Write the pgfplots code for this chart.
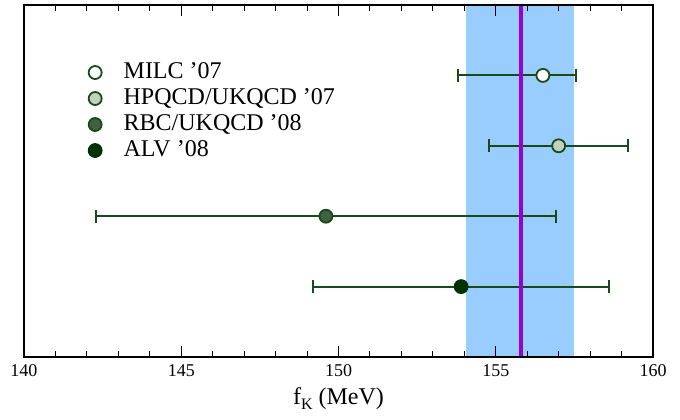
\documentclass[border=0pt]{standalone}
\usepackage{fontspec}
\setmainfont{Liberation Serif}
\usepackage{pgfplots}
\pgfplotsset{compat=1.18}
\definecolor{dg}{RGB}{25,75,25}
\definecolor{band}{RGB}{153,204,255}
\definecolor{purp}{RGB}{150,0,210}
\definecolor{hpfill}{RGB}{195,208,190}
\definecolor{rbcfill}{RGB}{65,95,65}
\definecolor{alvfill}{RGB}{0,50,0}
\begin{document}
\begin{tikzpicture}
\begin{axis}[
  at={(0,0)}, anchor=south west,
  scale only axis, width=629pt, height=352pt,
  xmin=140, xmax=160, ymin=0, ymax=5,
  ytick=\empty,
  xtick={140,145,150,155,160}, minor x tick num=4,
  tick align=inside, xtick pos=both,
  major tick length=11pt, minor tick length=6pt,
  axis line style={line width=1.5pt},
  every tick/.style={black, line width=1pt},
  xticklabel style={font=\fontsize{18}{20}\selectfont, yshift=-4pt},
  /pgf/number format/assume math mode=true,
  xlabel={f\raisebox{-5pt}{\fontsize{16}{16}\selectfont K} (MeV)},
  xlabel style={font=\fontsize{24}{26}\selectfont, yshift=-4pt},
  axis on top,
  legend cell align=left,
  legend style={at={(0.1025,0.84)}, anchor=north west, draw=none, fill=none,
    font=\fontsize{24}{26}\selectfont, row sep=4pt, column sep=22pt, inner sep=0pt,
    nodes={inner sep=0pt, text height=17pt, text depth=5pt}},
  error bars/error bar style={line width=2pt, dg},
  error bars/error mark options={rotate=90, mark size=6.5pt, line width=2pt, dg},
]
\addplot[fill=band, draw=none, forget plot] coordinates {(154.05,0) (157.5,0) (157.5,5) (154.05,5)} -- cycle;

\addplot[only marks, mark=*, mark size=6.5pt, mark options={draw=dg, fill=white, line width=1.8pt},
  error bars/.cd, x dir=both, x explicit]
  coordinates {(156.5,4) += (1.05,0) -= (2.7,0)};
\addlegendentry{MILC '07}
\addplot[only marks, mark=*, mark size=6.5pt, mark options={draw=dg, fill=hpfill, line width=1.8pt},
  error bars/.cd, x dir=both, x explicit]
  coordinates {(157.0,3) += (2.2,0) -= (2.2,0)};
\addlegendentry{HPQCD/UKQCD '07}
\addplot[only marks, mark=*, mark size=6.5pt, mark options={draw=dg, fill=rbcfill, line width=1.8pt},
  error bars/.cd, x dir=both, x explicit]
  coordinates {(149.6,2) += (7.3,0) -= (7.3,0)};
\addlegendentry{RBC/UKQCD '08}
\addplot[only marks, mark=*, mark size=6.5pt, mark options={draw=alvfill, fill=alvfill, line width=1.8pt},
  error bars/.cd, x dir=both, x explicit]
  coordinates {(153.9,1) += (4.7,0) -= (4.7,0)};
\addlegendentry{ALV '08}

\addplot[purp, line width=3.7pt, forget plot] coordinates {(155.8,0) (155.8,5)};
\end{axis}
\path (-24pt,-63pt) rectangle (656pt,357pt);
\end{tikzpicture}
\end{document}
